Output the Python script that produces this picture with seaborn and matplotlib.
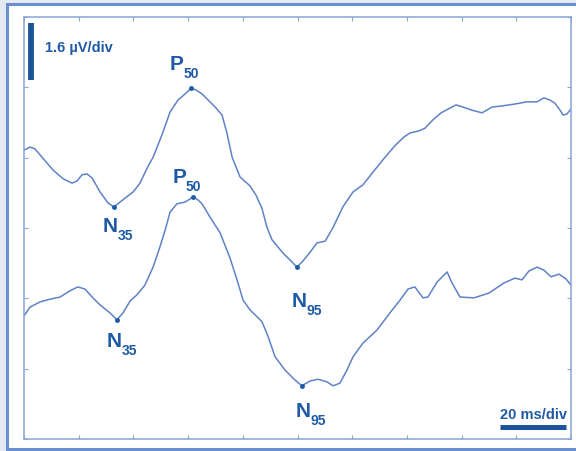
import numpy as np
import pandas as pd
import matplotlib
matplotlib.use("Agg")
import matplotlib.pyplot as plt
from matplotlib.patches import Rectangle
import seaborn as sns

# Pattern ERG traces: time (ms) and amplitude (µV, display scale 1.6 µV/div)
upper_ms = [0.0, 2.2, 4.0, 6.6, 10.6, 14.3, 17.6, 19.4, 21.2, 23.0, 24.9, 27.8,
            30.7, 32.9, 35.1, 38.0, 39.9, 42.4, 45.0, 47.2, 49.0, 50.8, 53.4,
            56.3, 58.9, 61.1, 62.9, 65.1, 68.0, 70.2, 72.4, 74.2, 76.1, 79.0,
            82.6, 84.8, 87.0, 88.8, 90.7, 94.7, 97.3, 99.8, 102.0, 104.6, 107.1,
            110.1, 112.9, 116.6, 120.3, 123.9, 127.6, 132.0, 135.6, 138.9, 141.1,
            144.4, 146.6, 149.5, 152.5, 155.8, 158.0, 160.5, 163.8, 167.5, 171.1,
            175.1, 179.5, 183.9, 187.6, 190.1, 192.3, 194.1, 196.0, 197.1, 198.5,
            200.0]
upper_uv = [6.57, 6.64, 6.60, 6.41, 6.12, 5.92, 5.82, 5.87, 6.01, 6.03, 5.94, 5.62,
            5.37, 5.28, 5.39, 5.53, 5.62, 5.82, 6.16, 6.41, 6.69, 6.98, 7.44,
            7.71, 7.85, 7.98, 7.94, 7.85, 7.67, 7.53, 7.37, 6.96, 6.41, 5.96,
            5.76, 5.55, 5.25, 4.82, 4.53, 4.23, 4.07, 3.91, 4.05, 4.25, 4.46,
            4.50, 4.80, 5.28, 5.62, 5.78, 6.07, 6.41, 6.67, 6.87, 6.96,
            7.01, 7.07, 7.26, 7.42, 7.53, 7.60, 7.55, 7.48, 7.42, 7.55,
            7.58, 7.62, 7.67, 7.67, 7.76, 7.71, 7.64, 7.48, 7.37, 7.39,
            7.51]

lower_ms = [0.0, 2.2, 5.9, 9.5, 13.2, 16.8, 19.7, 22.3, 24.9, 27.8, 31.4, 34.0,
            36.2, 38.8, 41.3, 44.2, 47.2, 49.7, 51.6, 53.4, 55.9, 58.9, 60.7,
            61.8, 63.6, 65.1, 68.0, 71.7, 75.3, 77.9, 80.1, 82.6, 87.0, 89.2,
            91.8, 95.4, 99.1, 101.6, 104.6, 107.5, 110.8, 113.0, 115.5, 118.1,
            120.3, 123.9, 129.1, 133.8, 137.5, 140.4, 142.9, 145.9, 147.7, 151.0,
            154.7, 156.5, 159.4, 164.5, 170.0, 175.5, 179.5, 182.1, 184.6, 187.6,
            190.1, 192.7, 195.6, 198.2, 200.0]
lower_uv = [2.80, 3.00, 3.12, 3.18, 3.23, 3.37, 3.46, 3.41, 3.23, 3.05, 2.87, 2.71,
            2.87, 3.14, 3.28, 3.50, 3.91, 4.37, 4.75, 5.16, 5.35, 5.39, 5.46,
            5.51, 5.44, 5.35, 5.05, 4.69, 4.12, 3.62, 3.16, 2.94, 2.67, 2.34,
            1.87, 1.57, 1.34, 1.21, 1.32, 1.36, 1.30, 1.21, 1.27, 1.57,
            1.87, 2.18, 2.48, 2.87, 3.16, 3.41, 3.46, 3.21, 3.23, 3.57,
            3.80, 3.55, 3.23, 3.21, 3.32, 3.55, 3.66, 3.62, 3.82, 3.91,
            3.84, 3.69, 3.75, 3.64, 3.50]

time_ticks = np.arange(0, 201, 20)        # 20 ms/div
amp_ticks = np.arange(0, 9.61, 1.6)       # 1.6 µV/div

TRACE = "#5f82c6"
INK = "#1f5aa6"
BAR = "#1b5499"
SPINE = "#88a4d8"
FRAME = "#6a90d2"
BG = "#e4e9f3"

sns.set_style("white")
plt.rcParams["font.family"] = ["Liberation Sans", "DejaVu Sans"]

df = pd.concat([
    pd.DataFrame({"ms": upper_ms, "uv": upper_uv, "trace": "upper"}),
    pd.DataFrame({"ms": lower_ms, "uv": lower_uv, "trace": "lower"}),
], ignore_index=True)

fig = plt.figure(figsize=(5.76, 4.51), dpi=100, facecolor=BG)
fig.patches.append(Rectangle((7 / 576, 2 / 451), 1.2, 445 / 451,
                             transform=fig.transFigure, facecolor="white",
                             edgecolor=FRAME, linewidth=2.2, zorder=-5))
ax = fig.add_axes([24 / 576, 12 / 451, 547 / 576, 422 / 451])
ax.set_facecolor("white")

sns.lineplot(data=df, x="ms", y="uv", hue="trace", units="trace",
             estimator=None, sort=False, palette={"upper": TRACE, "lower": TRACE},
             linewidth=1.1, legend=False, ax=ax)

ax.set_xlim(0, 200)
ax.set_ylim(0, 9.6)
ax.set_xticks(time_ticks)
ax.set_yticks(amp_ticks)
ax.set_xlabel("")
ax.set_ylabel("")
ax.tick_params(direction="in", length=3, width=0.8, colors=SPINE,
               bottom=True, top=True, left=True, right=True,
               labelbottom=False, labelleft=False)
for s in ax.spines.values():
    s.set_color(SPINE)
    s.set_linewidth(1.1)


def component(ms, uv, lo, hi, kind):
    t = np.asarray(ms)
    v = np.asarray(uv)
    m = (t >= lo) & (t <= hi)
    idx = np.where(m)[0]
    k = idx[np.argmax(v[idx])] if kind == "max" else idx[np.argmin(v[idx])]
    return t[k], v[k]


def label(xy, main, sub, dx, dy):
    ax.plot(*xy, marker="o", ms=2.5, color=INK, zorder=4)
    ax.annotate(main, xy=xy, xytext=(dx, dy), textcoords="offset pixels",
                ha="right", va="baseline", fontsize=15, fontweight="bold",
                color=INK)
    ax.annotate(sub, xy=xy, xytext=(dx, dy - 8), textcoords="offset pixels",
                ha="left", va="baseline", fontsize=10, fontweight="bold",
                color=INK)


label(component(upper_ms, upper_uv, 45, 75, "max"), "P", "50", -8, 18)
label(component(upper_ms, upper_uv, 20, 45, "min"), "N", "35", 4, -25)
label(component(upper_ms, upper_uv, 85, 120, "min"), "N", "95", 10, -40)
label(component(lower_ms, lower_uv, 45, 75, "max"), "P", "50", -7, 14)
label(component(lower_ms, lower_uv, 20, 45, "min"), "N", "35", 5, -27)
label(component(lower_ms, lower_uv, 95, 120, "min"), "N", "95", 9, -31)

# calibration bars
ax.plot([0.0128, 0.0128], [0.851, 0.986], transform=ax.transAxes, lw=4.2,
        color=BAR, solid_capstyle="butt", clip_on=False)
ax.text(0.038, 0.927, "1.6 µV/div", transform=ax.transAxes, ha="left",
        va="center", fontsize=10.5, fontweight="bold", color=INK)
ax.plot([0.870, 0.991], [0.028, 0.028], transform=ax.transAxes, lw=3.6,
        color=BAR, solid_capstyle="butt", clip_on=False)
ax.text(0.931, 0.058, "20 ms/div", transform=ax.transAxes, ha="center",
        va="center", fontsize=10.5, fontweight="bold", color=INK)

fig.savefig("out.png", dpi=100, facecolor=BG)
